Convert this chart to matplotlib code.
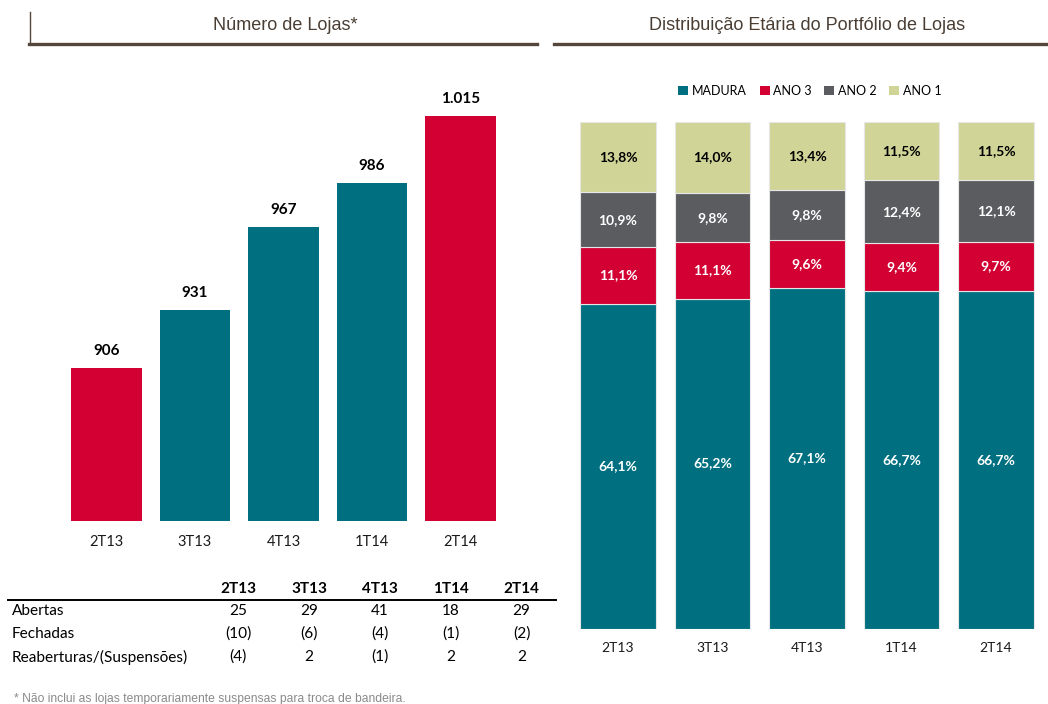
import matplotlib
matplotlib.use("Agg")
import matplotlib.pyplot as plt
from matplotlib.patches import Patch
from matplotlib.lines import Line2D

# ---- data ----
periods = ["2T13", "3T13", "4T13", "1T14", "2T14"]
lojas = [906, 931, 967, 986, 1015]
lojas_labels = ["906", "931", "967", "986", "1.015"]

madura = [64.1, 65.2, 67.1, 66.7, 66.7]
ano3 = [11.1, 11.1, 9.6, 9.4, 9.7]
ano2 = [10.9, 9.8, 9.8, 12.4, 12.1]
ano1 = [13.8, 14.0, 13.4, 11.5, 11.5]

row_labels = ["Abertas", "Fechadas", "Reaberturas/(Suspensões)"]
abertas = ["25", "29", "41", "18", "29"]
fechadas = ["(10)", "(6)", "(4)", "(1)", "(2)"]
reaberturas = ["(4)", "2", "(1)", "2", "2"]

footnote = "* Não inclui as lojas temporariamente suspensas para troca de bandeira."

# ---- style ----
TEAL = "#007080"
RED = "#D20033"
GRAY = "#5B5C60"
GREEN = "#D0D597"
BROWN = "#54463A"
TITLE_C = "#4A3E34"
DATA_FONT = "Lato"
TITLE_FONT = "Liberation Sans"

W, H = 1048, 704
fig = plt.figure(figsize=(W / 100, H / 100), dpi=100)

def fx(px):
    return px / W

def fy(py):
    return 1 - py / H

# ---- section titles and rules ----
fig.text(fx(285), fy(25), "Número de Lojas*", ha="center", va="center",
         fontsize=13, family=TITLE_FONT, color=TITLE_C)
fig.text(fx(807.5), fy(25), "Distribuição Etária do Portfólio de Lojas", ha="center",
         va="center", fontsize=13, family=TITLE_FONT, color=TITLE_C)
fig.add_artist(Line2D([fx(29), fx(537)], [fy(44), fy(44)], color=BROWN, lw=2.4))
fig.add_artist(Line2D([fx(30), fx(30)], [fy(12), fy(44)], color=BROWN, lw=1.0))
fig.add_artist(Line2D([fx(554), fx(1048)], [fy(43.5), fy(43.5)], color=BROWN, lw=2.4))

# ---- left bar chart ----
sp = 88.5
ax1 = fig.add_axes([fx(106.5 - 0.75 * sp), fy(521), fx(5.5 * sp), 441 / H])
xs = list(range(len(periods)))
colors1 = [RED, TEAL, TEAL, TEAL, RED]
ax1.bar(xs, lojas, width=0.8, color=colors1, bottom=0)
ax1.set_xlim(-0.75, 4.75)
ax1.set_ylim(839.7, 839.7 + 441 / 2.312)
for x, v, lab in zip(xs, lojas, lojas_labels):
    ax1.annotate(lab, (x, v), xytext=(0, 12.2), textcoords="offset points",
                 ha="center", va="center", fontsize=11, fontweight="bold",
                 family=DATA_FONT, color="black")
for x, p in zip(xs, periods):
    ax1.text(x, -21 / 441, p, transform=ax1.get_xaxis_transform(), ha="center",
             va="center", fontsize=10.5, family=DATA_FONT, color="#1a1a1a")
ax1.axis("off")

# ---- right stacked bar chart (shares rescaled to fill 100%) ----
sp2 = 94.5
ax2 = fig.add_axes([fx(618 - 0.6 * sp2), fy(628.5), fx(5.1 * sp2), 506.5 / H])
totals = [a + b + c + d for a, b, c, d in zip(madura, ano3, ano2, ano1)]
series = [("MADURA", madura, TEAL, "white"), ("ANO 3", ano3, RED, "white"),
          ("ANO 2", ano2, GRAY, "white"), ("ANO 1", ano1, GREEN, "black")]
bottoms = [0.0] * len(periods)
for name, vals, col, tcol in series:
    heights = [v / t * 100 for v, t in zip(vals, totals)]
    ax2.bar(xs, heights, width=0.8, bottom=bottoms, color=col, edgecolor="#E6E6E6",
            linewidth=0.8)
    for x, b, h, v in zip(xs, bottoms, heights, vals):
        ax2.text(x, b + h / 2, f"{v:.1f}%".replace(".", ","), ha="center",
                 va="center", fontsize=10, fontweight="bold", family=DATA_FONT,
                 color=tcol)
    bottoms = [b + h for b, h in zip(bottoms, heights)]
ax2.set_xlim(-0.6, 4.5)
ax2.set_ylim(0, 100)
for x, p in zip(xs, periods):
    ax2.text(x, -19.5 / 506.5, p, transform=ax2.get_xaxis_transform(), ha="center",
             va="center", fontsize=10, family=DATA_FONT, color="#1a1a1a")
ax2.axis("off")

handles = [Patch(facecolor=c, edgecolor="none", label=n) for n, _, c, _ in series]
leg = fig.legend(handles=handles, loc="center", bbox_to_anchor=(fx(810), fy(91)),
                 ncol=4, frameon=False, handlelength=0.8, handleheight=0.8,
                 handletextpad=0.3, columnspacing=1.0,
                 prop={"family": DATA_FONT, "size": 9})

# ---- table ----
col_x = [238, 309, 380, 451, 521.5]
for cx, p in zip(col_x, periods):
    fig.text(fx(cx), fy(589), p, ha="center", va="center", fontsize=11,
             fontweight="bold", family=DATA_FONT, color="black")
fig.add_artist(Line2D([fx(8), fx(556)], [fy(600), fy(600)], color="black", lw=1.4))
row_y = [611, 634, 657]
rows = [abertas, fechadas, reaberturas]
for ry, lab, vals in zip(row_y, row_labels, rows):
    fig.text(fx(12), fy(ry), lab, ha="left", va="center", fontsize=11.1,
             family=DATA_FONT, color="black")
    for cx, v in zip(col_x, vals):
        fig.text(fx(cx), fy(ry), v, ha="center", va="center", fontsize=11.1,
                 family=DATA_FONT, color="black")

fig.text(fx(14), fy(699), footnote, ha="left", va="center", fontsize=8.7,
         family=TITLE_FONT, color="#8A8A8A")

fig.savefig("out.png", dpi=100)
